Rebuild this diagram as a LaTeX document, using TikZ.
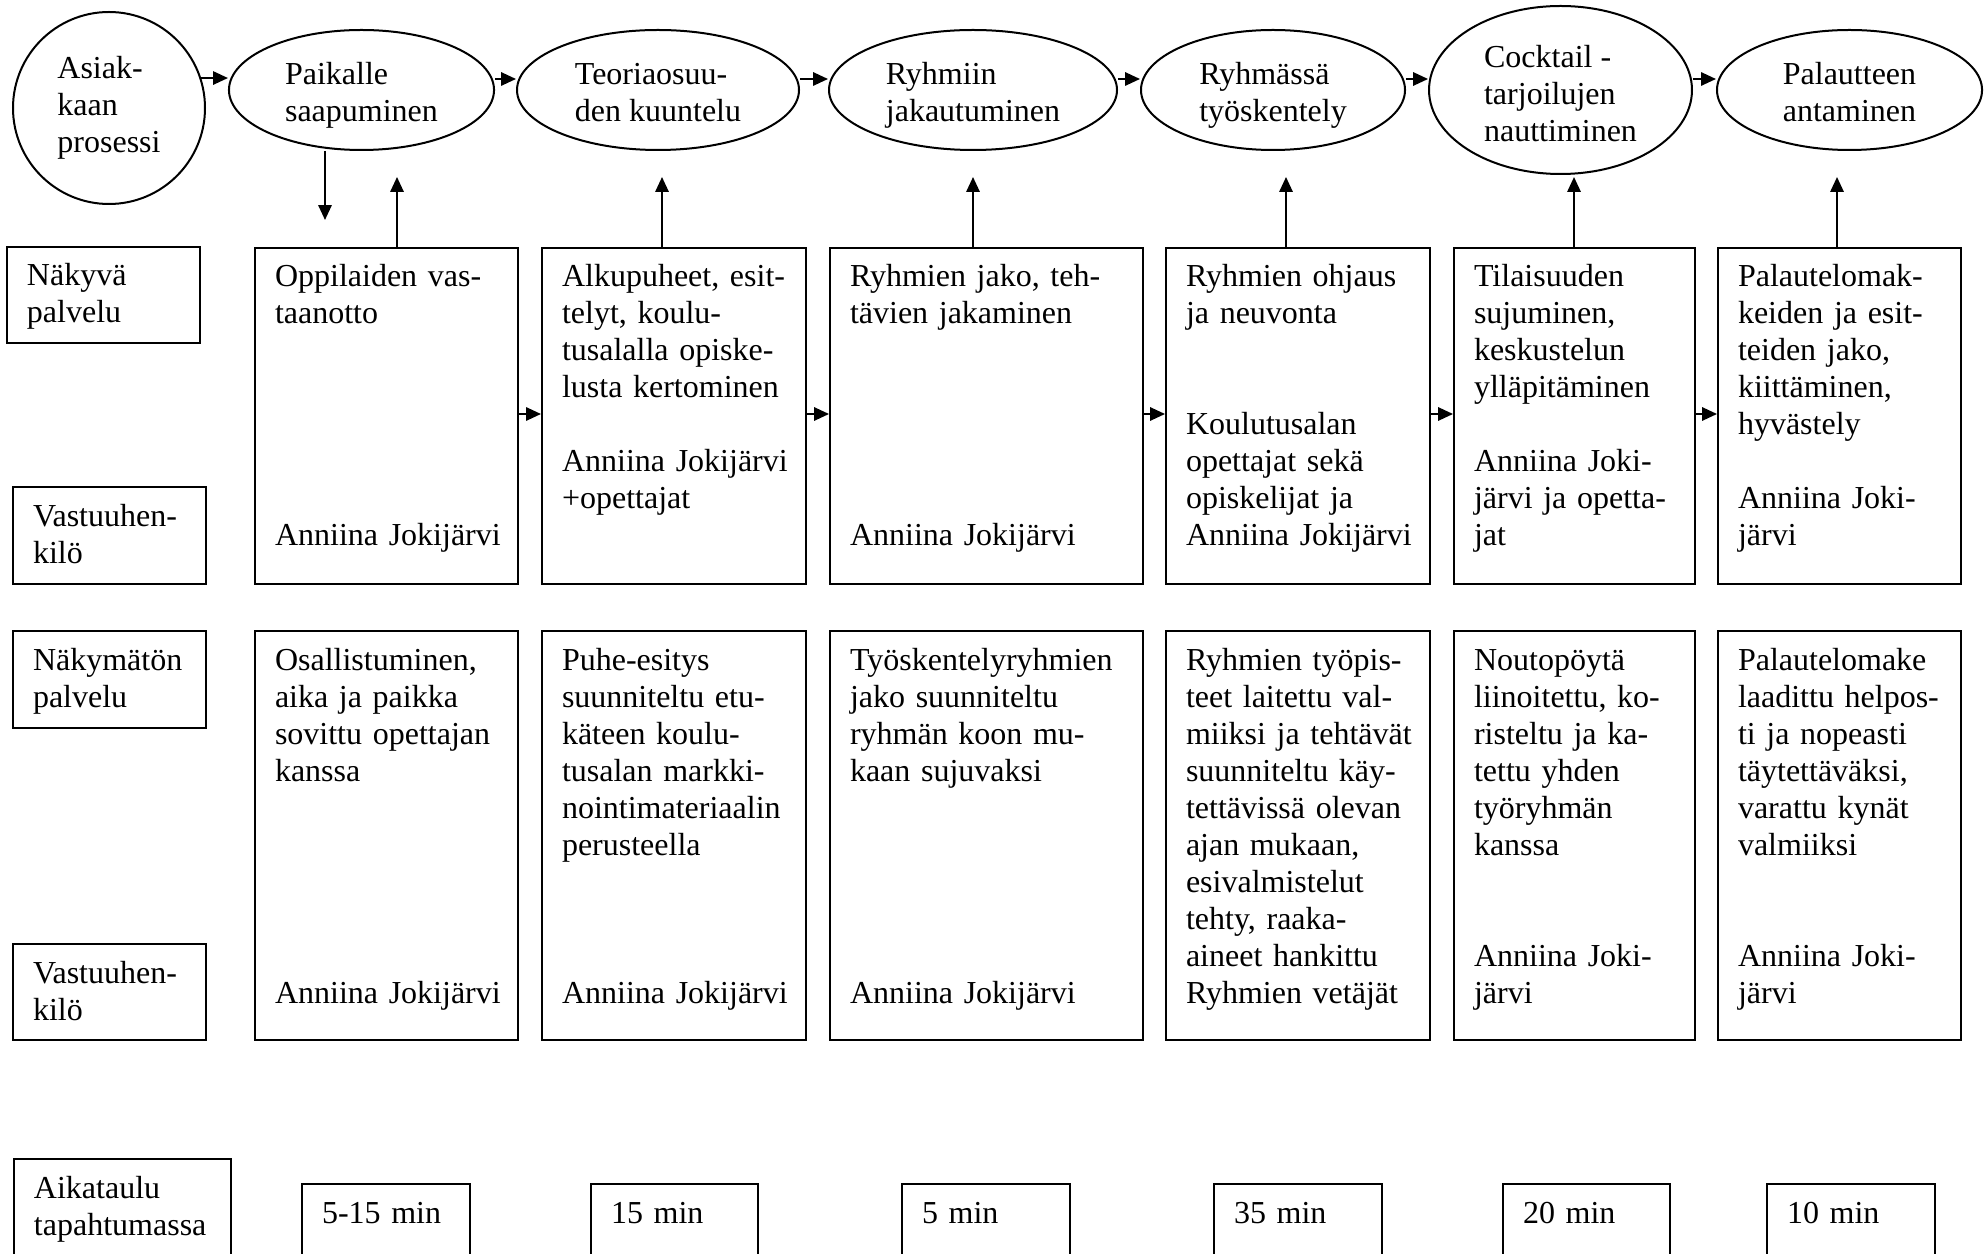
\documentclass[tikz,border=0pt]{standalone}
\usepackage{fontspec}
\setmainfont{Liberation Serif}
\usetikzlibrary{arrows.meta,shapes.geometric}

\tikzset{
  txt/.style={font=\fontsize{12}{13.875}\selectfont},
  cell/.style={txt, draw, line width=0.75pt, anchor=north west, inner xsep=0pt, inner ysep=0pt,
    align=left, text height=14.625pt},
  ell/.style={txt, draw, ellipse, line width=0.75pt, inner sep=0pt, align=left},
  twoline/.style={text height=25pt, text depth=1.3pt},
  arr/.style={line width=0.75pt, -{Triangle[length=5.6pt,width=5pt]}}
}
% #1 name, #2 x1, #3 y1, #4 x2, #5 y2 (pixels), #6 text
\newcommand\mkbox[6]{%
  \pgfmathsetmacro\mkbw{(#4-#2)*0.375}%
  \pgfmathsetmacro\mkbd{(#5-#3-39)*0.375}%
  \node[cell, text width=\mkbw pt, text depth=\mkbd pt] (#1) at (#2,#3) {\setlength\leftskip{7.5pt}#6\par};%
}

\begin{document}
\begin{tikzpicture}[x=0.375pt, y=-0.375pt]
\clip (0,0) rectangle (1988,1254);
\fill[white] (0,0) rectangle (1988,1254);

% customer process ellipses
\node[ell, minimum width=72pt, minimum height=72pt] (e0) at (109,108) {Asiak-\\kaan\\prosessi};
\node[ell, twoline, minimum width=99.4pt, minimum height=45pt] (e1) at (361.5,90) {Paikalle\\saapuminen};
\node[ell, twoline, minimum width=105.75pt, minimum height=45pt] (e2) at (658,90) {Teoriaosuu-\\den kuuntelu};
\node[ell, twoline, minimum width=108pt, minimum height=45pt] (e3) at (973,90) {Ryhmiin\\jakautuminen};
\node[ell, twoline, minimum width=99pt, minimum height=45pt] (e4) at (1273,90) {Ryhmässä\\työskentely};
\node[ell, text height=40pt, text depth=1pt, minimum width=98.6pt, minimum height=63pt] (e5) at (1560.5,90) {Cocktail -\\tarjoilujen\\nauttiminen};
\node[ell, twoline, minimum width=99.4pt, minimum height=45pt] (e6) at (1849.5,90) {Palautteen\\antaminen};

% row labels
\mkbox{l1}{6}{246}{199}{342}{Näkyvä\\palvelu}
\mkbox{l2}{12}{486}{205}{583}{Vastuuhen-\\kilö}
\mkbox{l3}{12}{630}{205}{727}{Näkymätön\\palvelu}
\mkbox{l4}{12}{943}{205}{1039}{Vastuuhen-\\kilö}
\mkbox{l5}{13}{1158}{230}{1290}{Aikataulu\\tapahtumassa}

% visible service
\mkbox{b1}{254}{247}{517}{583}{Oppilaiden vas-\\taanotto\\~\\~\\~\\~\\~\\Anniina Jokijärvi}
\mkbox{b2}{541}{247}{805}{583}{Alkupuheet, esit-\\telyt, koulu-\\tusalalla opiske-\\lusta kertominen\\~\\Anniina Jokijärvi\\+opettajat}
\mkbox{b3}{829}{247}{1142}{583}{Ryhmien jako, teh-\\tävien jakaminen\\~\\~\\~\\~\\~\\Anniina Jokijärvi}
\mkbox{b4}{1165}{247}{1429}{583}{Ryhmien ohjaus\\ja neuvonta\\~\\~\\Koulutusalan\\opettajat sekä\\opiskelijat ja\\Anniina Jokijärvi}
\mkbox{b5}{1453}{247}{1694}{583}{Tilaisuuden\\sujuminen,\\keskustelun\\ylläpitäminen\\~\\Anniina Joki-\\järvi ja opetta-\\jat}
\mkbox{b6}{1717}{247}{1960}{583}{Palautelomak-\\keiden ja esit-\\teiden jako,\\kiittäminen,\\hyvästely\\~\\Anniina Joki-\\järvi}

% invisible service
\mkbox{c1}{254}{630}{517}{1039}{Osallistuminen,\\aika ja paikka\\sovittu opettajan\\kanssa\\~\\~\\~\\~\\~\\Anniina Jokijärvi}
\mkbox{c2}{541}{630}{805}{1039}{Puhe-esitys\\suunniteltu etu-\\käteen koulu-\\tusalan markki-\\nointimateriaalin\\perusteella\\~\\~\\~\\Anniina Jokijärvi}
\mkbox{c3}{829}{630}{1142}{1039}{Työskentelyryhmien\\jako suunniteltu\\ryhmän koon mu-\\kaan sujuvaksi\\~\\~\\~\\~\\~\\Anniina Jokijärvi}
\mkbox{c4}{1165}{630}{1429}{1039}{Ryhmien työpis-\\teet laitettu val-\\miiksi ja tehtävät\\suunniteltu käy-\\tettävissä olevan\\ajan mukaan,\\esivalmistelut\\tehty, raaka-\\aineet hankittu\\Ryhmien vetäjät}
\mkbox{c5}{1453}{630}{1694}{1039}{Noutopöytä\\liinoitettu, ko-\\risteltu ja ka-\\tettu yhden\\työryhmän\\kanssa\\~\\~\\Anniina Joki-\\järvi}
\mkbox{c6}{1717}{630}{1960}{1039}{Palautelomake\\laadittu helpos-\\ti ja nopeasti\\täytettäväksi,\\varattu kynät\\valmiiksi\\~\\~\\Anniina Joki-\\järvi}

% schedule
\mkbox{t1}{301}{1183}{469}{1290}{5-15 min}
\mkbox{t2}{590}{1183}{757}{1290}{15 min}
\mkbox{t3}{901}{1183}{1069}{1290}{5 min}
\mkbox{t4}{1213}{1183}{1381}{1290}{35 min}
\mkbox{t5}{1502}{1183}{1669}{1290}{20 min}
\mkbox{t6}{1766}{1183}{1934}{1290}{10 min}

% helper coordinates
\coordinate (ay) at (0,79);
\coordinate (ry) at (0,414);
\coordinate (d1) at (325,220);
\coordinate (u1) at (397,177);
\coordinate (u2) at (662,177);
\coordinate (u3) at (973,177);
\coordinate (u4) at (1286,177);
\coordinate (u5) at (1574,177);
\coordinate (u6) at (1837,177);

% process arrows
\draw[arr] (e0.18) -- (e0.18 -| e1.west);
\draw[arr] (e1.east |- ay) -- (e2.west |- ay);
\draw[arr] (e2.east |- ay) -- (e3.west |- ay);
\draw[arr] (e3.east |- ay) -- (e4.west |- ay);
\draw[arr] (e4.east |- ay) -- (e5.west |- ay);
\draw[arr] (e5.east |- ay) -- (e6.west |- ay);

% vertical arrows
\draw[arr] (e1.south -| d1) -- (d1);
\draw[arr] (b1.north -| u1) -- (u1);
\draw[arr] (b2.north -| u2) -- (u2);
\draw[arr] (b3.north -| u3) -- (u3);
\draw[arr] (b4.north -| u4) -- (u4);
\draw[arr] (b5.north -| u5) -- (u5);
\draw[arr] (b6.north -| u6) -- (u6);

% box arrows
\draw[arr] (b1.east |- ry) -- (b2.west |- ry);
\draw[arr] (b2.east |- ry) -- (b3.west |- ry);
\draw[arr] (b3.east |- ry) -- (b4.west |- ry);
\draw[arr] (b4.east |- ry) -- (b5.west |- ry);
\draw[arr] (b5.east |- ry) -- (b6.west |- ry);
\end{tikzpicture}
\end{document}
